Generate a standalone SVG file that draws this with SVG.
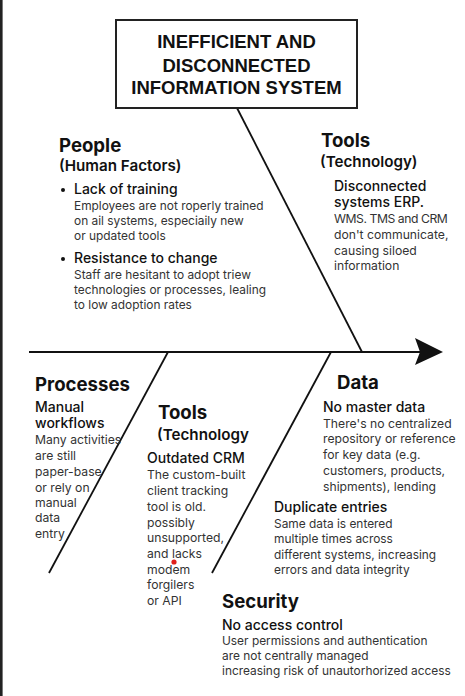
<svg xmlns="http://www.w3.org/2000/svg" width="465" height="696" viewBox="0 0 465 696">
<style>
text{font-family:Inter,"Liberation Sans",sans-serif;fill:#111}
.title{font-family:"Liberation Sans",Arial,sans-serif;font-weight:700;font-size:18.5px;text-anchor:middle}
.h{font-weight:700;font-size:18.6px}
.sub{font-weight:600;font-size:15.2px}
.item{font-weight:500;font-size:14px}
.body{font-weight:400;font-size:12.2px;fill:#333}
.sm{font-size:11.9px}
.bone{stroke:#111;stroke-width:1.8;fill:none}
</style>
<rect x="0" y="0" width="465" height="696" fill="#fff"/>
<rect x="0" y="0" width="2.6" height="696" fill="#222"/>
<g id="connectors">
<line class="bone" x1="29" y1="352" x2="421" y2="352" stroke-width="2.6"/>
<path d="M415,338 L443,352 L415,365 L420,352 Z" fill="#111"/>
<line class="bone" x1="237" y1="108" x2="362" y2="352"/>
<line class="bone" x1="168" y1="352" x2="49" y2="573"/>
<line class="bone" x1="331" y1="352" x2="212" y2="573"/>
</g>
<g id="title">
<rect x="116" y="20" width="241" height="88" fill="#fff" stroke="#222" stroke-width="2"/>
<text class="title" x="236.5" y="48">INEFFICIENT AND</text>
<text class="title" x="236.5" y="72">DISCONNECTED</text>
<text class="title" x="236.5" y="94">INFORMATION SYSTEM</text>
</g>
<g id="people">
<text class="h" x="59" y="152">People</text>
<text class="sub" x="59" y="171">(Human Factors)</text>
<circle cx="63" cy="190" r="2" fill="#111"/>
<text class="item" x="74" y="194">Lack of training</text>
<text class="body sm" x="74" y="210">Employees are not roperly trained</text>
<text class="body sm" x="74" y="225">on ail systems, especiaily new</text>
<text class="body sm" x="74" y="240">or updated tools</text>
<circle cx="63" cy="259" r="2" fill="#111"/>
<text class="item" x="74" y="263">Resistance to change</text>
<text class="body sm" x="74" y="279">Staff are hesitant to adopt triew</text>
<text class="body sm" x="74" y="294">technologies or processes, lealing</text>
<text class="body sm" x="74" y="309">to low adoption rates</text>
</g>
<g id="tools-top">
<text class="h" x="321" y="147">Tools</text>
<text class="sub" x="320" y="167">(Technology)</text>
<text class="item" x="334" y="191">Disconnected</text>
<text class="item" x="334" y="207">systems ERP.</text>
<text class="body" x="334" y="223" letter-spacing="-0.45">WMS. TMS and CRM</text>
<text class="body" x="334" y="239">don't communicate,</text>
<text class="body" x="334" y="255">causing siloed</text>
<text class="body" x="334" y="270">information</text>
</g>
<g id="processes">
<text class="h" x="35" y="391">Processes</text>
<text class="item" x="35" y="412">Manual</text>
<text class="item" x="35" y="428">workflows</text>
<text class="body" x="35" y="444">Many activities</text>
<text class="body" x="35" y="460">are still</text>
<text class="body" x="35" y="476">paper-base</text>
<text class="body" x="35" y="492">or rely on</text>
<text class="body" x="35" y="507">manual</text>
<text class="body" x="35" y="522">data</text>
<text class="body" x="35" y="538">entry</text>
</g>
<g id="tools-bottom">
<text class="h" x="158" y="419">Tools</text>
<text class="sub" x="157" y="440">(Technology</text>
<text class="item" x="147" y="463">Outdated CRM</text>
<text class="body" x="147" y="479">The custom-built</text>
<text class="body" x="147" y="495">client tracking</text>
<text class="body" x="147" y="511">tool is old.</text>
<text class="body" x="147" y="527">possibly</text>
<text class="body" x="147" y="542">unsupported,</text>
<text class="body" x="147" y="558">and lacks</text>
<text class="body" x="147" y="574">modem</text>
<text class="body" x="147" y="589">forgilers</text>
<text class="body" x="147" y="605">or API</text>
<circle cx="174" cy="562" r="2.6" fill="#e0201c"/>
</g>
<g id="data">
<text class="h" x="337" y="389">Data</text>
<text class="item" x="323" y="412">No master data</text>
<text class="body" x="323" y="428">There's no centralized</text>
<text class="body" x="323" y="443">repository or reference</text>
<text class="body" x="323" y="459">for key data (e.g.</text>
<text class="body" x="323" y="475">customers, products,</text>
<text class="body" x="323" y="491">shipments), lending</text>
<text class="item" x="274" y="512">Duplicate entries</text>
<text class="body sm" x="274" y="528">Same data is entered</text>
<text class="body sm" x="274" y="543">multiple times across</text>
<text class="body sm" x="274" y="559">different systems, increasing</text>
<text class="body sm" x="274" y="574">errors and data integrity</text>
</g>
<g id="security">
<text class="h" x="222" y="608">Security</text>
<text class="item" x="222" y="630">No access control</text>
<text class="body sm" x="222" y="645">User permissions and authentication</text>
<text class="body sm" x="222" y="660">are not centrally managed</text>
<text class="body sm" x="222" y="675">increasing risk of unautorhorized access</text>
</g>
</svg>
